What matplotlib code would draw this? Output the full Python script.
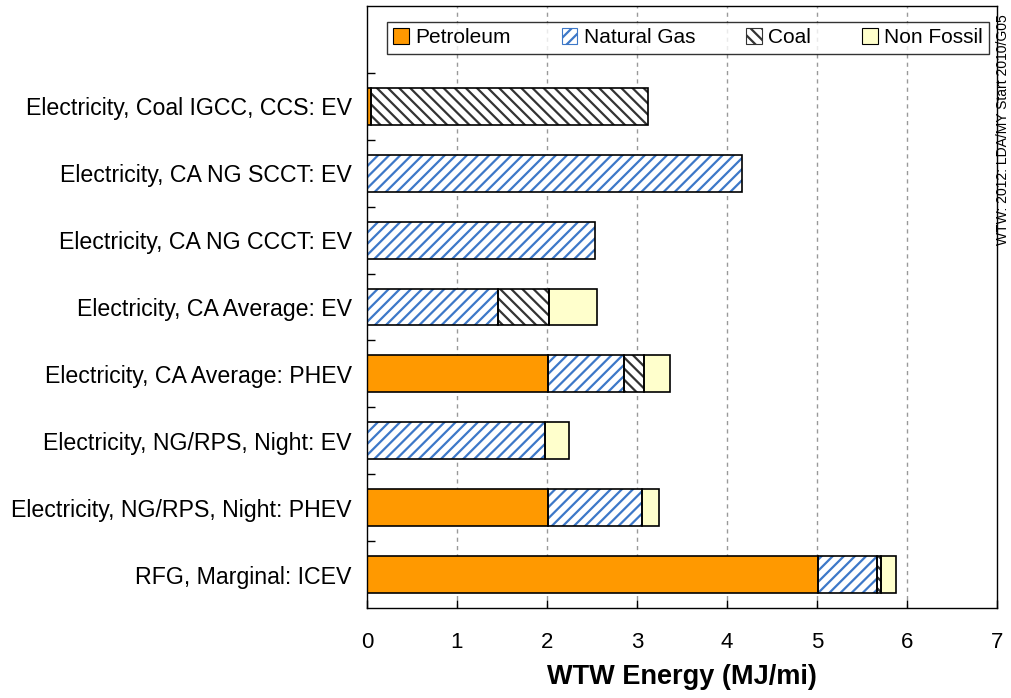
import numpy as np
import matplotlib.pyplot as plt
from matplotlib.patches import Patch

plt.rcParams['font.family'] = ['Liberation Sans', 'DejaVu Sans']
plt.rcParams['hatch.linewidth'] = 1.6

# pathways, bottom to top
labels = ['RFG, Marginal: ICEV',
          'Electricity, NG/RPS, Night: PHEV',
          'Electricity, NG/RPS, Night: EV',
          'Electricity, CA Average: PHEV',
          'Electricity, CA Average: EV',
          'Electricity, CA NG CCCT: EV',
          'Electricity, CA NG SCCT: EV',
          'Electricity, Coal IGCC, CCS: EV']

# WTW energy by source (MJ/mi)
petroleum = [5.01, 2.01, 0.00, 2.01, 0.00, 0.00, 0.00, 0.04]
natural_gas = [0.66, 1.05, 1.98, 0.84, 1.46, 2.53, 4.17, 0.00]
coal = [0.04, 0.00, 0.00, 0.23, 0.56, 0.00, 0.00, 3.08]
non_fossil = [0.17, 0.18, 0.26, 0.29, 0.53, 0.00, 0.00, 0.00]

sources = ['Petroleum', 'Natural Gas', 'Coal', 'Non Fossil']
face = ['#ff9900', 'white', 'white', '#ffffcc']
hatch_col = ['#ff9900', '#3d78c8', '#333333', '#ffffcc']
hatches = [None, '///', '\\\\\\', None]

fig = plt.figure(figsize=(10.11, 6.98), dpi=100)
ax = fig.add_axes([367/1011, 1 - 608/698, (997-367)/1011, (608-6)/698])

y = np.arange(len(labels))
h = 0.55
left = np.zeros(len(labels))
for vals, fc, hc, ht in zip([petroleum, natural_gas, coal, non_fossil], face, hatch_col, hatches):
    vals = np.array(vals)
    m = vals > 0
    ax.barh(y[m], vals[m], h, left=left[m], color=fc, edgecolor=hc,
            hatch=ht, linewidth=0, zorder=2)
    ax.barh(y[m], vals[m], h, left=left[m], color='none', edgecolor='black',
            linewidth=1.2, zorder=3)
    left += vals

ax.set_xlim(0, 7)
ax.set_ylim(-0.5, 8.5)
ax.set_yticks(y)
ax.set_yticklabels(labels, fontsize=16.7)
ax.set_yticks(np.arange(0.5, 8, 1), minor=True)
ax.tick_params(axis='y', which='major', length=0, pad=11)
ax.tick_params(axis='y', which='minor', direction='in', length=6, width=1)
ax.set_xticks(range(8))
ax.tick_params(axis='x', direction='in', length=6, width=1, labelsize=16, pad=17)
ax.set_xlabel('WTW Energy (MJ/mi)', fontsize=19.5, fontweight='bold', labelpad=8)
for s in ax.spines.values():
    s.set_linewidth(1.0)
for xv in range(1, 7):
    ax.axvline(xv, color='#999999', lw=1, linestyle=(0, (3, 3)), zorder=1)

handles = [Patch(facecolor=fc, edgecolor=hc if ht else 'black', hatch=ht, linewidth=0.8)
           for fc, hc, ht in zip(face, hatch_col, hatches)]
handles[0] = Patch(facecolor=face[0], edgecolor='black', linewidth=0.8)
handles[3] = Patch(facecolor=face[3], edgecolor='black', linewidth=0.8)
leg = ax.legend(handles, sources, ncol=4, loc='upper left', bbox_to_anchor=(20/630, 586/602),
                fontsize=15, frameon=True, fancybox=False, edgecolor='black',
                handlelength=0.75, handleheight=0.75, handletextpad=0.3,
                columnspacing=2.45, borderpad=0.3, borderaxespad=0)
leg.get_frame().set_linewidth(1.0)

fig.text(1003/1011, 1 - 130/698, 'WTW: 2012: LDA/MY Start 2010/G05', rotation=90,
         fontsize=10, ha='center', va='center')

fig.savefig('out.png', dpi=100)
